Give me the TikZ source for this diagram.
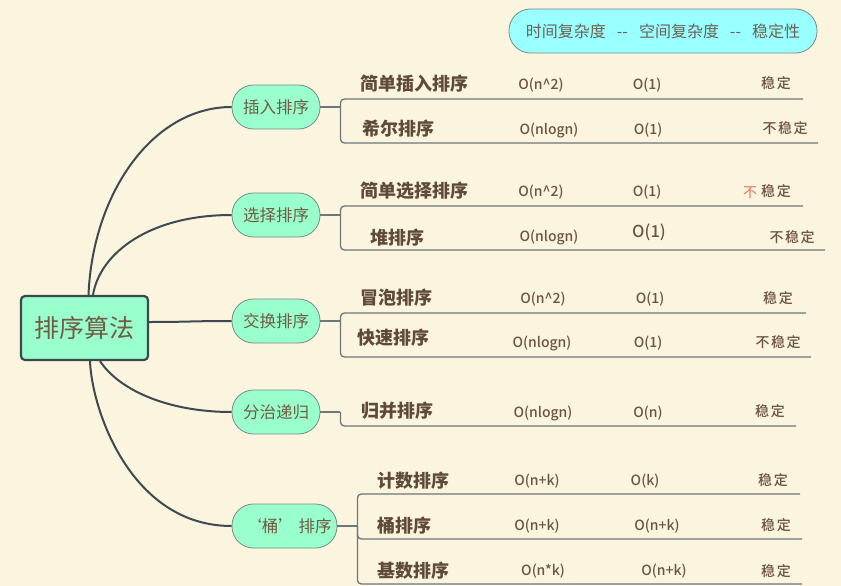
\documentclass[tikz,border=0pt]{standalone}
\usepackage{fontspec}
\setmainfont{Noto Sans CJK SC}
\newfontfamily\cxfont{Noto Sans CJK SC Medium}
\usetikzlibrary{calc}
\definecolor{bg}{HTML}{FBF4DF}
\definecolor{mint}{HTML}{99FFCC}
\definecolor{cyanf}{HTML}{99FFFF}
\definecolor{rootborder}{HTML}{3D474F}
\definecolor{pillborder}{HTML}{7D8A84}
\definecolor{pilltext}{HTML}{735A45}
\definecolor{itemtext}{HTML}{5E4A36}
\definecolor{cxtext}{HTML}{6B5440}
\definecolor{hdrtext}{HTML}{6E6052}
\definecolor{curvec}{HTML}{3F4A50}
\definecolor{linkc}{HTML}{6F767A}
\definecolor{redtxt}{HTML}{E8735A}
\begin{document}
\begin{tikzpicture}[x=1pt,y=-1pt,
  root/.style={draw=rootborder, line width=2.2pt, fill=mint, rounded corners=4pt,
    minimum width=127pt, minimum height=64pt, inner sep=0pt,
    font=\fontsize{25}{30}\selectfont, text=pilltext},
  cat/.style={draw=pillborder, line width=0.8pt, fill=mint, rounded corners=21.5pt,
    minimum width=88pt, minimum height=44pt, inner sep=0pt,
    font=\fontsize{16.5}{20}\selectfont, text=pilltext},
  hdr/.style={cat, fill=cyanf, minimum width=308pt, text=hdrtext, font=\fontsize{16}{20}\selectfont},
  item/.style={anchor=west, inner sep=0pt, font=\bfseries\fontsize{18}{22}\selectfont, text=itemtext},
  cx/.style={inner sep=0pt, font=\cxfont\fontsize{14}{17}\selectfont, text=cxtext},
  branch/.style={draw=curvec, line width=2pt},
  link/.style={draw=linkc, line width=1.3pt, rounded corners=4pt}]
\fill[bg] (0,0) rectangle (841,586);
\useasboundingbox (0,0) rectangle (841,586);

% root and categories
\node[root] (c) at (84.5,328) {排序算法};
\node[cat] (p1) at (276,107) {插入排序};
\node[cat] (p2) at (276,215) {选择排序};
\node[cat] (p3) at (276,321) {交换排序};
\node[cat] (p4) at (276,412) {分治递归};
\node[cat, minimum width=105pt] (p5) at (284.5,526) {\hspace{8pt}‘桶’\ 排序};
\node[hdr] (h) at (663,31) {时间复杂度\hspace{11pt}{-}{-}\hspace{11pt}空间复杂度\hspace{11pt}{-}{-}\hspace{11pt}稳定性};

% branches
\draw[branch] ([xshift=4pt]c.north) .. controls +(4,-100) and +(-80,0) .. (p1.west);
\draw[branch] ([xshift=8.5pt]c.north) .. controls +(7,-42) and +(-82,0) .. (p2.west);
\draw[branch] ([yshift=6pt]c.east) .. controls +(40,0) and +(-40,0) .. (p3.west);
\draw[branch] ([xshift=15.5pt]c.south) .. controls +(20,30) and +(-62,0) .. (p4.west);
\draw[branch] ([xshift=5.5pt]c.south) .. controls +(2,50) and +(-100,0) .. (p5.west);

% items
\node[item] (i1) at (360,84) {简单插入排序};
\node[item] (i2) at (362,129) {希尔排序};
\node[item] (i3) at (360,191) {简单选择排序};
\node[item] (i4) at (370,238) {堆排序};
\node[item] (i5) at (360,298) {冒泡排序};
\node[item] (i6) at (357,338) {快速排序};
\node[item] (i7) at (361,411) {归并排序};
\node[item] (i8) at (377,481) {计数排序};
\node[item] (i9) at (377,526) {桶排序};
\node[item] (i10) at (377,571) {基数排序};

% underline ends
\coordinate (u1) at (803,99);
\coordinate (u2) at (818,143);
\coordinate (u3) at (803,206);
\coordinate (u4) at (825,250);
\coordinate (u5) at (806,313);
\coordinate (u6) at (811,357);
\coordinate (u7) at (796,426);
\coordinate (u8) at (800,494);
\coordinate (u9) at (802,539);
\coordinate (u10) at (802,584);

% junctions
\coordinate (j1) at ($(p1.east)+(20,0)$);
\coordinate (j2) at ($(p2.east)+(20,0)$);
\coordinate (j3) at ($(p3.east)+(20,0)$);
\coordinate (j4) at ($(p4.east)+(20,0)$);
\coordinate (j5) at ($(p5.east)+(20,0)$);

\draw[link] (p1.east) -- (j1);
\draw[link] (j1) |- (u1);
\draw[link] (j1) |- (u2);
\draw[link] (p2.east) -- (j2);
\draw[link] (j2) |- (u3);
\draw[link] (j2) |- (u4);
\draw[link] (p3.east) -- (j3);
\draw[link] (j3) |- (u5);
\draw[link] (j3) |- (u6);
\draw[link] (p4.east) -- (j4);
\draw[link] (j4) |- (u7);
\draw[link] (p5.east) -- (j5);
\draw[link] (j5) |- (u8);
\draw[link] (j5) |- (u9);
\draw[link] (j5) |- (u10);

% complexities
\node[cx] (a1) at (541,85) {O(n\textasciicircum 2)};
\node[cx] (b1) at (647,85) {O(1)};
\node[cx] (s1) at (776,83) {稳\hspace{2pt}定};

\node[cx] (a2) at (549,130) {O(nlogn)};
\node[cx] (b2) at (648,130) {O(1)};
\node[cx] (s2) at (785,128) {不\hspace{1.5pt}稳\hspace{1.5pt}定};

\node[cx] (a3) at (541,192) {O(n\textasciicircum 2)};
\node[cx] (b3) at (647,192) {O(1)};
\node[cx, text=redtxt, font=\fontsize{14}{17}\selectfont] (r3) at (750,193) {不};
\node[cx] (s3) at (776,191) {稳\hspace{2pt}定};

\node[cx] (a4) at (549,237) {O(nlogn)};
\node[cx, font=\cxfont\fontsize{16.5}{19}\selectfont] (b4) at (649,232) {O(1)};
\node[cx] (s4) at (792,237) {不\hspace{1.5pt}稳\hspace{1.5pt}定};

\node[cx] (a5) at (543,299) {O(n\textasciicircum 2)};
\node[cx] (b5) at (650,299) {O(1)};
\node[cx] (s5) at (778,298) {稳\hspace{2pt}定};

\node[cx] (a6) at (542,343) {O(nlogn)};
\node[cx] (b6) at (648,343) {O(1)};
\node[cx] (s6) at (778,342) {不\hspace{1.5pt}稳\hspace{1.5pt}定};

\node[cx] (a7) at (543,413) {O(nlogn)};
\node[cx] (b7) at (648,413) {O(n)};
\node[cx] (s7) at (770,411) {稳\hspace{2pt}定};

\node[cx] (a8) at (537,481) {O(n+k)};
\node[cx] (b8) at (645,481) {O(k)};
\node[cx] (s8) at (773,480) {稳\hspace{2pt}定};

\node[cx] (a9) at (537,526) {O(n+k)};
\node[cx] (b9) at (657,526) {O(n+k)};
\node[cx] (s9) at (776,525) {稳\hspace{2pt}定};

\node[cx] (a10) at (543,571) {O(n*k)};
\node[cx] (b10) at (664,571) {O(n+k)};
\node[cx] (s10) at (776,571) {稳\hspace{2pt}定};
\end{tikzpicture}
\end{document}
